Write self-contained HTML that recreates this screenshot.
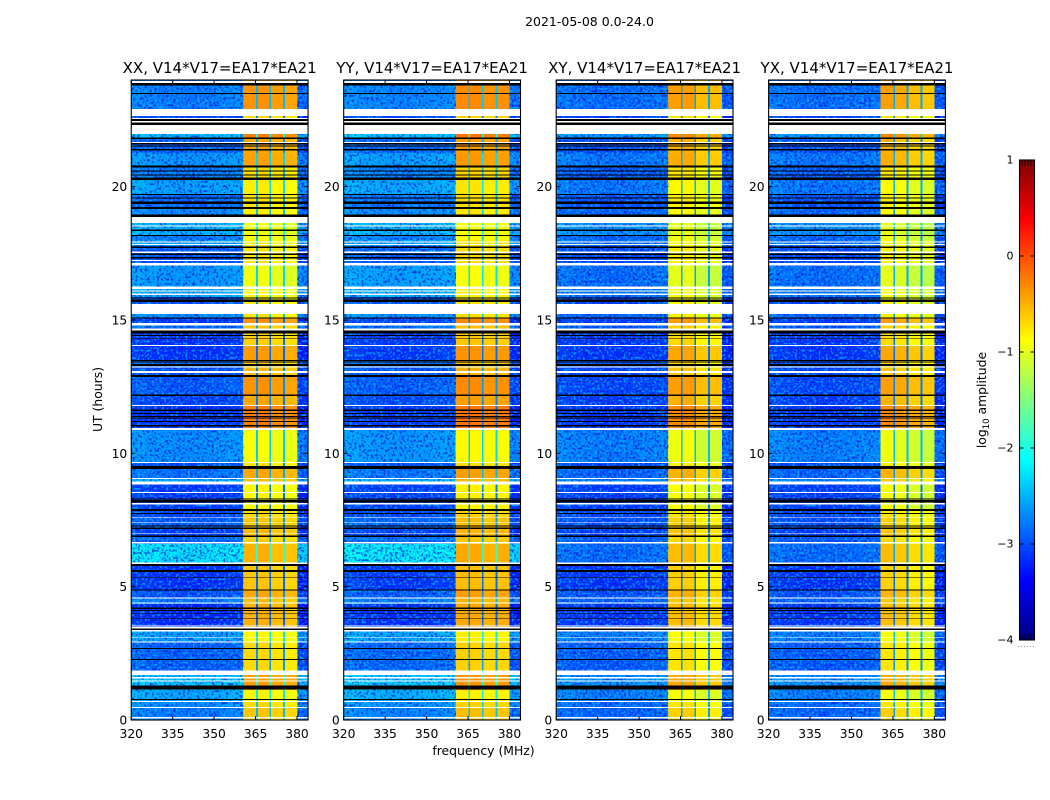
<!DOCTYPE html>
<html lang="en">
<head>
<meta charset="utf-8">
<title>2021-05-08 0.0-24.0</title>
<style>
html,body{margin:0;padding:0;background:#fff;width:1050px;height:800px;overflow:hidden}
svg{display:block}
text{font-family:"DejaVu Sans","Liberation Sans",sans-serif;fill:#000}
</style>
</head>
<body>
<svg id="chart" xmlns="http://www.w3.org/2000/svg" width="1050" height="800" viewBox="0 0 1050 800">
  <defs>
    <filter id="speckle-dark" x="0" y="0" width="1" height="1" color-interpolation-filters="sRGB">
      <feTurbulence type="fractalNoise" baseFrequency="0.42" numOctaves="1" seed="3"/>
      <feColorMatrix type="matrix" values="0 0 0 0 0  0 0 0 0 0.12  0 0 0 0 0.85  7 0 0 0 -3.5"/>
    </filter>
    <filter id="speckle-light" x="0" y="0" width="1" height="1" color-interpolation-filters="sRGB">
      <feTurbulence type="fractalNoise" baseFrequency="0.42" numOctaves="1" seed="11"/>
      <feColorMatrix type="matrix" values="0 0 0 0 0  0 0 0 0 0.72  0 0 0 0 1  7 0 0 0 -3.7"/>
    </filter>
  </defs>
  <rect x="0" y="0" width="1050" height="800" fill="#fff"/>
  <text x="589.5" y="26" font-size="12.5" text-anchor="middle">2021-05-08 0.0-24.0</text>
  <text transform="translate(102,399.5) rotate(-90)" font-size="12.4" text-anchor="middle">UT (hours)</text>
  <text x="483.5" y="755" font-size="12.4" text-anchor="middle">frequency (MHz)</text>
  <text transform="translate(986,400) rotate(-90)" font-size="12.4" text-anchor="middle">log<tspan font-size="8.5" dy="3">10</tspan><tspan dy="-3"> amplitude</tspan></text>
  <g id="panels"></g>
  <g id="colorbar"></g>
</svg>
<script>
// Categories and tick labels
const panelTitles = ["XX, V14*V17=EA17*EA21", "YY, V14*V17=EA17*EA21", "XY, V14*V17=EA17*EA21", "YX, V14*V17=EA17*EA21"];
const isCrossPol = [false, false, true, true];
const freqTicks = [320, 335, 350, 365, 380];
const hourTicks = [0, 5, 10, 15, 20];
const colorbarTicks = [1, 0, -1, -2, -3, -4];

// Frequency columns (MHz edges) and what each column samples
const freqEdges = [320, 325, 330, 335, 340, 345, 350, 355, 360.5, 365.2, 365.8, 370, 370.6, 375, 375.7, 380.1, 384];
const columnKind = ["low", "low", "low", "low", "low", "low", "low", "low", "ch0", "notch", "ch1", "notch", "ch2", "notch", "ch3", "edge"];
const lowBandOffset = [0.08, 0.03, 0, -0.02, -0.02, 0, 0.02, 0.05];

// Time bands: top edge (UT hours) and log10 amplitudes
const bandTopHour = [24, 22.65, 21.98, 21.79, 21.26, 20.78, 20.25, 19.73, 19.2, 18.9,
  18.15, 18, 17.78, 17.06, 16.24, 15.86, 15.23, 15.08, 14.89, 14.51,
  14.03, 13.46, 13.24, 12.9, 12.15, 11.78, 10.88, 9.64, 9.45, 9.04,
  8.85, 7.84, 7.61, 7.16, 6.86, 6.6, 5.78, 4.88, 4.58, 4.35,
  3.34, 2.93, 1.69, 1.13, 0.68, 0.45];
const bandLowParallel = [-2.6, -2.9, -2.25, -2.75, -2.45, -2.6, -2.4, -2.7, -2.55, -2.3,
  -2.6, -2.4, -2.8, -2.45, -2.35, -2.8, -2.5, -2.95, -2.7, -3,
  -3, -2.7, -2.85, -2.8, -2.9, -3, -2.5, -2.85, -2.65, -2.3,
  -2.95, -2.9, -2.75, -2.95, -2.7, -2.05, -3, -2.8, -2.6, -3.05,
  -2.4, -2.75, -2.2, -2.35, -2.5, -2.6];
const bandLowCross = [-2.75, -3, -2.5, -2.9, -2.7, -2.85, -2.7, -2.9, -2.8, -2.55,
  -2.8, -2.7, -2.95, -2.75, -2.7, -2.95, -2.8, -3, -2.85, -3.05,
  -3.05, -2.9, -2.95, -2.95, -3, -3.05, -2.65, -2.95, -2.8, -2.6,
  -3, -2.95, -2.9, -3, -2.85, -2.75, -3.05, -2.9, -2.8, -3.05,
  -2.65, -2.85, -2.55, -2.65, -2.75, -2.8];
const bandHigh = [-0.35, -0.7, -0.25, -0.45, -0.42, -0.7, -0.8, -0.75, -0.8, -0.95,
  -0.9, -0.8, -0.75, -0.95, -0.85, -0.8, -0.75, -0.35, -0.6, -0.65,
  -0.4, -0.6, -0.55, -0.35, -0.45, -0.25, -0.9, -0.75, -0.45, -0.55,
  -0.85, -0.7, -0.6, -0.55, -0.65, -0.5, -0.6, -0.45, -0.55, -0.5,
  -0.85, -0.7, -0.4, -0.85, -0.7, -0.6];

// Per-panel and per-channel level adjustments (log10 amplitude)
const panelLowOffset = [-0.17, -0.12, -0.1, -0.1];
const channelOffsetXX = [0, 0.02, -0.05, -0.08];
const channelOffsetYY = [0.05, 0.05, 0, 0.02];
const channelOffsetXY = [-0.05, -0.03, -0.2, -0.2];
const channelOffsetYX = [-0.05, -0.1, -0.2, -0.25];
const channelOffsets = [channelOffsetXX, channelOffsetYY, channelOffsetXY, channelOffsetYX];
const notchOffset = 0.3;
const edgeOffset = -0.1;

// Flagged time ranges: [top hour, bottom hour]
const whiteGaps = [[23.96,23.89],[22.91,22.65],[22.58,22.53],[22.46,22.41],[22.31,21.98],[21.68,21.64],[18.86,18.64],[18.55,18.51],[17.94,17.9],[17.85,17.81],
  [17.56,17.52],[17.25,17.21],[17.13,17.05],[16.25,16.17],[16.1,16.06],[16,15.94],[15.6,15.23],[14.88,14.79],[14.69,14.6],[14.06,14.03],
  [13.25,13.21],[13.09,13.02],[11.81,11.78],[10.95,10.88],[9.68,9.63],[9.08,9.03],[8.94,8.84],[8.55,8.51],[8.13,8.09],[7.62,7.59],
  [7.41,7.38],[7,6.97],[6.68,6.61],[5.9,5.85],[4.59,4.55],[4.4,4.36],[3.55,3.51],[3.48,3.44],[3.38,3.31],[3.12,3.09],
  [2.94,2.9],[1.85,1.68],[1.62,1.55],[1.48,1.44],[0.71,0.68],[0.49,0.45],[0.11,0.06]];
const blackGaps = [[23.89,23.79],[23.51,23.48],[22.53,22.46],[22.41,22.31],[21.85,21.78],[21.64,21.58],[21.54,21.51],[21.41,21.35],[20.79,20.72],[20.6,20.56],
  [20.46,20.41],[20.35,20.25],[19.73,19.68],[19.62,19.59],[19.56,19.53],[19.44,19.35],[19.23,19.17],[18.95,18.87],[18.4,18.34],[18.19,18.15],
  [17.75,17.7],[17.5,17.43],[17.37,17.31],[15.85,15.8],[15.76,15.68],[15.1,15.06],[14.6,14.5],[14.44,14.4],[14.31,14.28],[13.5,13.46],
  [13.44,13.41],[13.35,13.28],[12.94,12.87],[12.21,12.15],[11.65,11.59],[11.52,11.48],[11.4,11.35],[11.31,11.28],[11.22,11.18],[11.06,11],
  [9.53,9.42],[8.31,8.27],[8.25,8.15],[7.91,7.84],[7.77,7.73],[7.3,7.25],[7.21,7.16],[6.91,6.87],[5.85,5.78],[5.63,5.55],
  [5.37,5.35],[4.9,4.85],[4.21,4.17],[4.13,4.09],[4.02,3.99],[3.81,3.78],[3.44,3.38],[2.7,2.66],[2.29,2.25],[1.29,1.26],
  [1.25,1.14],[0.79,0.75]];

const NS = "http://www.w3.org/2000/svg";
const panelLeft = [131.25, 343.7, 556.2, 768.6];
const panelWidth = 176.8;
const plotTop = 80, plotBottom = 720;
const freqMin = 320, freqMax = 384, hourMin = 0, hourMax = 24;
const ampMin = -4, ampMax = 1;

function xScale(panel, mhz) {
  return panelLeft[panel] + (mhz - freqMin) / (freqMax - freqMin) * panelWidth;
}
function yScale(hour) {
  return plotBottom - (hour - hourMin) / (hourMax - hourMin) * (plotBottom - plotTop);
}
function clamp01(v) { return Math.max(0, Math.min(1, v)); }
function jet(value) {
  const n = clamp01((value - ampMin) / (ampMax - ampMin));
  const r = clamp01(1.5 - Math.abs(4 * n - 3));
  const g = clamp01(1.5 - Math.abs(4 * n - 2));
  const b = clamp01(1.5 - Math.abs(4 * n - 1));
  return "rgb(" + Math.round(r * 255) + "," + Math.round(g * 255) + "," + Math.round(b * 255) + ")";
}
function svgEl(tag, parent, attrs) {
  const el = document.createElementNS(NS, tag);
  for (const k in attrs) el.setAttribute(k, attrs[k]);
  parent.appendChild(el);
  return el;
}
function cellValue(panel, band, col) {
  const low = (isCrossPol[panel] ? bandLowCross[band] : bandLowParallel[band]) + panelLowOffset[panel];
  const kind = columnKind[col];
  if (kind === "low") return low + lowBandOffset[col];
  if (kind === "notch") return low + notchOffset;
  if (kind === "edge") return low + edgeOffset;
  return bandHigh[band] + channelOffsets[panel][Number(kind.slice(2))];
}

const panelsRoot = document.getElementById("panels");

panelTitles.forEach(function (title, p) {
  const g = svgEl("g", panelsRoot, {});
  
  

  const heat = svgEl("g", g, { "shape-rendering": "crispEdges" });
  
  

  bandTopHour.forEach(function (top, b) {
    const bottom = b + 1 < bandTopHour.length ? bandTopHour[b + 1] : hourMin;
    for (let c = 0; c < columnKind.length; c++) {
      const x0 = xScale(p, freqEdges[c]);
      const x1 = xScale(p, freqEdges[c + 1]);
      const cell = svgEl("rect", heat, {
        x: x0.toFixed(2), y: yScale(top).toFixed(2),
        width: (x1 - x0).toFixed(2), height: (yScale(bottom) - yScale(top)).toFixed(2),
        fill: jet(cellValue(p, b, c))
      });
      
      
    }
  });

  // Decorative receiver-noise grain over the out-of-band columns (carries no data)
  const grainX = xScale(p, freqMin);
  const grainWidth = xScale(p, 360.5) - grainX;
  const grainEdgeX = xScale(p, 380.1);
  const grainEdgeWidth = xScale(p, freqMax) - grainEdgeX;
  ["speckle-dark", "speckle-light"].forEach(function (f) {
    const g1 = svgEl("rect", heat, { x: grainX, y: plotTop, width: grainWidth, height: plotBottom - plotTop, filter: "url(#" + f + ")", opacity: 0.75 });
    
    
    const g2 = svgEl("rect", heat, { x: grainEdgeX, y: plotTop, width: grainEdgeWidth, height: plotBottom - plotTop, filter: "url(#" + f + ")", opacity: 0.75 });
    
    
  });

  whiteGaps.forEach(function (gap) {
    const r = svgEl("rect", heat, {
      x: xScale(p, freqMin), y: yScale(gap[0]).toFixed(2),
      width: panelWidth, height: (yScale(gap[1]) - yScale(gap[0])).toFixed(2), fill: "#fff"
    });
    
    
  });
  blackGaps.forEach(function (gap) {
    const r = svgEl("rect", heat, {
      x: xScale(p, freqMin), y: yScale(gap[0]).toFixed(2),
      width: panelWidth, height: (yScale(gap[1]) - yScale(gap[0])).toFixed(2), fill: "#000"
    });
    
    
  });

  const frame = svgEl("rect", g, {
    x: panelLeft[p], y: plotTop, width: panelWidth, height: plotBottom - plotTop,
    fill: "none", stroke: "#000", "stroke-width": 1.1
  });
  
  

  const titleEl = svgEl("text", g, {
    x: panelLeft[p] + panelWidth / 2, y: 73, "font-size": 15, "text-anchor": "middle"
  });
  titleEl.textContent = title;
  
  

  freqTicks.forEach(function (f) {
    const x = xScale(p, f);
    const t1 = svgEl("line", g, { x1: x, x2: x, y1: plotBottom, y2: plotBottom - 4, stroke: "#000", "stroke-width": 1 });
    
    
    const t2 = svgEl("line", g, { x1: x, x2: x, y1: plotTop, y2: plotTop + 4, stroke: "#000", "stroke-width": 1 });
    
    
    const lab = svgEl("text", g, { x: x, y: 738, "font-size": 12.3, "text-anchor": "middle" });
    lab.textContent = String(f);
    
    
  });

  hourTicks.forEach(function (h) {
    const y = yScale(h);
    const right = panelLeft[p] + panelWidth;
    const t1 = svgEl("line", g, { x1: panelLeft[p], x2: panelLeft[p] + 4, y1: y, y2: y, stroke: "#000", "stroke-width": 1 });
    
    
    const t2 = svgEl("line", g, { x1: right, x2: right - 4, y1: y, y2: y, stroke: "#000", "stroke-width": 1 });
    
    
    const lab = svgEl("text", g, { x: panelLeft[p] - 4, y: y + 4.5, "font-size": 12.3, "text-anchor": "end" });
    lab.textContent = String(h);
    
    
  });
});

// Colorbar
const cbRoot = document.getElementById("colorbar");
const cbLeft = 1019.5, cbRight = 1034.5, cbTop = 160, cbBottom = 640;
function cbScale(v) { return cbBottom - (v - ampMin) / (ampMax - ampMin) * (cbBottom - cbTop); }

const cbFill = svgEl("g", cbRoot, { "shape-rendering": "crispEdges" });


const cbSteps = 240;
for (let i = 0; i < cbSteps; i++) {
  const v0 = ampMin + (ampMax - ampMin) * i / cbSteps;
  const v1 = ampMin + (ampMax - ampMin) * (i + 1) / cbSteps;
  const s = svgEl("rect", cbFill, {
    x: cbLeft, y: cbScale(v1), width: cbRight - cbLeft, height: cbScale(v0) - cbScale(v1) + 0.5,
    fill: jet((v0 + v1) / 2)
  });
  
  
}
const cbFrame = svgEl("rect", cbRoot, {
  x: cbLeft, y: cbTop, width: cbRight - cbLeft, height: cbBottom - cbTop,
  fill: "none", stroke: "#000", "stroke-width": 1.1
});



colorbarTicks.forEach(function (v) {
  const y = cbScale(v);
  const t1 = svgEl("line", cbRoot, { x1: cbLeft, x2: cbLeft + 4, y1: y, y2: y, stroke: "#000", "stroke-width": 1 });
  
  
  const t2 = svgEl("line", cbRoot, { x1: cbRight, x2: cbRight - 4, y1: y, y2: y, stroke: "#000", "stroke-width": 1 });
  
  
  const lab = svgEl("text", cbRoot, { x: cbLeft - 6, y: y + 3.5, "font-size": 11, "text-anchor": "end" });
  lab.textContent = v < 0 ? "\u2212" + Math.abs(v) : String(v);
  
  
});

[cbTop, cbBottom - 6].forEach(function (y) {
  [1022, 1025, 1028, 1031].forEach(function (x) {
    const m = svgEl("line", cbRoot, { x1: x, x2: x, y1: y, y2: y + 6, stroke: "#000", "stroke-width": 0.8 });
    
    
  });
});
[1018, 1021, 1024, 1027, 1030, 1033].forEach(function (x) {
  const d = svgEl("rect", cbRoot, { x: x, y: 646, width: 1, height: 1, fill: "#999" });
  
  
});
</script>
</body>
</html>
